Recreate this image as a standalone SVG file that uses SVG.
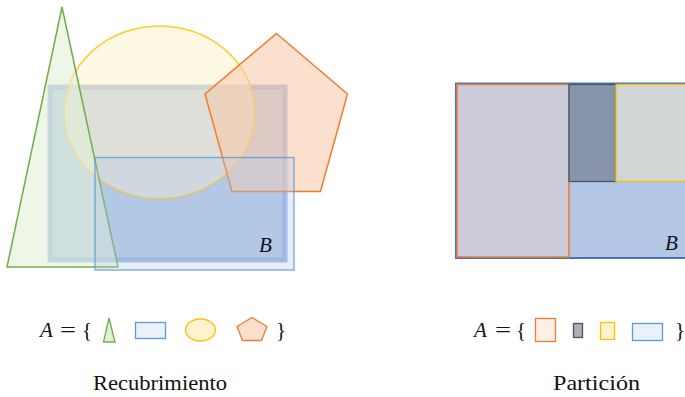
<svg xmlns="http://www.w3.org/2000/svg" width="685" height="397" viewBox="0 0 685 397">
<style>
.lbl{font-family:"Liberation Serif","DejaVu Serif",serif;font-size:21px;fill:#111}
.math{font-family:"Liberation Serif","DejaVu Serif",serif;font-size:21px;fill:#111}
.it{font-style:italic}
</style>
<rect width="685" height="397" fill="#fff"/>
<g id="cover">
  <g id="B-left"><rect x="50" y="87" width="235" height="173" fill="#b4c7e7" stroke="#8faadc" stroke-opacity="0.85" stroke-width="5"/></g>
  <g id="circle"><ellipse cx="159.5" cy="112.5" rx="95.5" ry="86.5" fill="#fff2cc" fill-opacity="0.55" stroke="#ffc000" stroke-width="1.5" stroke-opacity="0.8"/></g>
  <g id="triangle"><polygon points="62,7 7,267 118,267" fill="#e2f0d9" fill-opacity="0.6" stroke="#70ad47" stroke-width="1.5"/></g>
  <g id="pentagon"><polygon points="276.5,33.5 347.5,94 320.5,191.5 232,191.5 205,94" fill="#f8cbad" fill-opacity="0.6" stroke="#ed7d31" stroke-width="1.5"/></g>
  <g id="rect2"><rect x="95" y="157.5" width="199" height="112.5" fill="#b4c7e7" fill-opacity="0.3" stroke="#5b9bd5" stroke-width="1.3" stroke-opacity="0.85"/></g>
  <text class="math it" x="259" y="252">B</text>
</g>
<g id="partition">
  <g id="B-right"><rect x="456" y="83.5" width="235" height="174.5" fill="#b4c7e7" stroke="#4472c4" stroke-width="2"/></g>
  <g id="p1"><rect x="457" y="84.5" width="112" height="172.5" fill="#cccbd9" stroke="#ed7d31" stroke-width="1.5"/></g>
  <g id="p2"><rect x="569" y="84.5" width="47" height="97" fill="#8794a9" stroke="#44546a" stroke-width="1.3"/></g>
  <g id="p3"><rect x="616" y="84.5" width="75" height="97" fill="#d0d5d6" stroke="#ffc000" stroke-width="1.3"/></g>
  <text class="math it" x="665" y="250">B</text>
</g>
<g id="set-left">
  <text class="math it" x="40" y="337">A</text>
  <text class="math" x="60" y="337" textLength="16" lengthAdjust="spacingAndGlyphs">=</text>
  <text class="math" x="82" y="337">{</text>
  <polygon points="109,318 103.5,342 115,342" fill="#e2f0d9" stroke="#70ad47" stroke-width="1.3"/>
  <rect x="135.5" y="322.5" width="30" height="16" fill="#eaf1fa" stroke="#5b9bd5" stroke-width="1.3"/>
  <ellipse cx="200.5" cy="330" rx="15" ry="11" fill="#fff2cc" stroke="#ffc000" stroke-width="1.3"/>
  <polygon points="252,317.5 267,326.5 261.5,340.5 242.5,340.5 237,326.5" fill="#fbdfcd" stroke="#ed7d31" stroke-width="1.3"/>
  <text class="math" x="276" y="337">}</text>
</g>
<g id="set-right">
  <text class="math it" x="474" y="337">A</text>
  <text class="math" x="495" y="337" textLength="16" lengthAdjust="spacingAndGlyphs">=</text>
  <text class="math" x="516" y="337">{</text>
  <rect x="535.5" y="318.5" width="20" height="23" fill="#fdeee6" stroke="#ed7d31" stroke-width="1.3"/>
  <rect x="573.5" y="323.5" width="9" height="14" fill="#b0b0b0" stroke="#44546a" stroke-width="1.3"/>
  <rect x="600.5" y="322.5" width="14" height="17" fill="#fff2cc" stroke="#ffc000" stroke-width="1.3"/>
  <rect x="632.5" y="323.5" width="30" height="17" fill="#eaf1fa" stroke="#5b9bd5" stroke-width="1.3"/>
  <text class="math" x="675" y="337">}</text>
</g>
<text class="lbl" x="93" y="390" textLength="134" lengthAdjust="spacingAndGlyphs">Recubrimiento</text>
<text class="lbl" x="553" y="390" textLength="87" lengthAdjust="spacingAndGlyphs">Partición</text>
</svg>
